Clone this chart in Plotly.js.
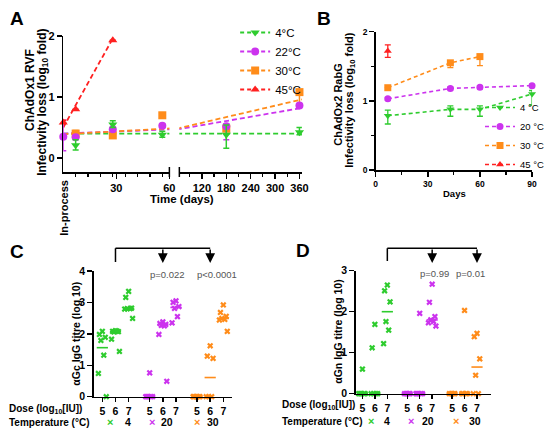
<!DOCTYPE html>
<html>
<head>
<meta charset="utf-8">
<script src="https://cdn.plot.ly/plotly-3.0.1.min.js"></script>
<style>
  html, body { margin: 0; padding: 0; background: #fff; }
  #chart { width: 550px; height: 439px; }
</style>
</head>
<body>
<div id="chart"></div>
<script>
// colours
const green = '#2ecc2e';
const magenta = '#cc33ee';
const orange = '#ff8c1a';
const red = '#ff2020';

// ---- panel A: ChAdOx1 RVF, infectivity loss vs time ----
const aDays4 = [7, 28, 56, 180, 360];
const a4 = [0.21, 0.55, 0.38, 0.38, 0.42];
const a4Up = [0.09, 0.06, 0.06, 0.16, 0.08];
const a4Down = [0.08, 0.05, 0.04, 0.22, 0.04];

const aDays22 = [0, 7, 28, 56, 180, 360];
const a22 = [0.35, 0.34, 0.47, 0.53, 0.52, 0.86];
const a22Up = [0.27, 0.03, 0.03, 0.03, 0.04, 0.03];
const a22Down = [0.23, 0.03, 0.03, 0.03, 0.22, 0.03];

const aDays30 = [7, 28, 56, 180, 360];
const a30 = [0.40, 0.37, 0.70, 0.48, 1.08];
const a30Up = [0.05, 0, 0, 0, 0];
const a30Down = [0, 0, 0, 0, 0.22];

const aDays45 = [0, 7, 28];
const a45 = [0.58, 0.80, 1.93];
const a45Up = [0.04, 0, 0];
const a45Down = [0, 0, 0];

// fitted trend lines (end points)
const fitDays = [0, 366];
const fit4 = [0.40, 0.40];
const fit22 = [0.40, 0.82];
const fit30 = [0.39, 0.96];
const fitDays45 = [0, 28];
const fit45 = [0.50, 1.96];

// ---- panel B: ChAdOx2 RabG ----
const bDays4 = [7, 43, 60, 90];
const b4 = [0.785, 0.877, 0.877, 1.10];
const b4Up = [0.08, 0.05, 0.05, 0.05];
const b4Down = [0.12, 0.10, 0.10, 0.16];
const bDays20 = [7, 43, 60, 90];
const b20 = [1.03, 1.18, 1.195, 1.22];
const b20Up = [0.02, 0.02, 0.02, 0.02];
const bDays30 = [7, 43, 60];
const b30 = [1.19, 1.55, 1.64];
const b30Down = [0, 0.07, 0.13];
const bDays45 = [7];
const b45 = [1.72];
const b45Err = [0.09];

// ---- panels C and D: antibody titres ----
const doses = ['5', '6', '7'];
const temps = ['4', '20', '30'];

const cG = [[2.08, 1.98, 1.89, 1.79, 1.32, 0.74, 0],
            [2.10, 2.08, 2.07, 2.06, 2.09, 1.83, 1.44],
            [3.35, 3.16, 2.82, 2.80, 2.80, 2.79, 2.49]];
const cM = [[0.76, 0, 0, 0, 0, 0],
            [2.38, 2.33, 2.30, 2.27, 2.25, 1.98, 0.49],
            [3.05, 3.00, 2.87, 2.81, 2.55, 2.35]];
const cO = [[0, 0, 0, 0, 0, 0],
            [1.62, 1.29, 1.22, 0, 0, 0],
            [2.92, 2.68, 2.56, 2.49, 2.46, 2.44, 2.08]];
const cMidG = [1.56, 2.07, 2.81];
const cMidM = [0, 2.30, 2.84];
const cMidO = [0, 0.61, 2.49];

const dG = [[0.60, 0, 0, 0, 0, 0],
            [1.69, 1.12, 0, 0, 0, 0],
            [2.65, 2.51, 2.24, 1.76, 1.55, 1.22]];
const dM = [[0, 0, 0, 0, 0],
            [1.96, 0, 0, 0, 0, 0],
            [2.67, 2.23, 1.88, 1.80, 1.76, 1.73, 1.65]];
const dO = [[0, 0, 0, 0, 0],
            [2.03, 0, 0, 0, 0],
            [1.47, 1.39, 0.85, 0.45, 0, 0]];
const dMidG = [0, 0, 2.0];
const dMidM = [0, 0, 1.8];
const dMidO = [0, 0, 0.65];

const cPvals = ['p=0.022', 'p<0.0001'];
const dPvals = ['p=0.99', 'p=0.01'];

// ---------- helpers ----------
const W = 550, H = 439;
const px = v => v / W;
const py = v => 1 - v / H;
const FONT = 'Liberation Sans, Arial, sans-serif';
const GAP = 3.6;                       // distance between temperature groups
const catPos = (g, d) => g * GAP + d;
const jit = [0, -0.22, 0.22, -0.11, 0.11, -0.3, 0.3, 0.05];

let traces = [];

// panel A
function addA(days, vals, up, down, color, symbol, size) {
  const sides = [['x', d => d <= 60], ['x2', d => d > 60]];
  sides.forEach(function(s) {
    let x = [], y = [], u = [], m = [];
    days.forEach(function(d, i) {
      if (s[1](d)) { x.push(d); y.push(vals[i]); u.push(up[i]); m.push(down[i]); }
    });
    if (!x.length) return;
    traces.push({
      x: x, y: y, xaxis: s[0], yaxis: 'y', mode: 'markers', showlegend: false,
      cliponaxis: false,
      marker: { color: color, symbol: symbol, size: size },
      error_y: { type: 'data', symmetric: false, array: u, arrayminus: m,
                 color: color, thickness: 1.5, width: 3 }
    });
  });
}
function addFit(days, vals, color, axes) {
  axes.forEach(function(ax) {
    traces.push({
      x: days, y: vals, xaxis: ax, yaxis: 'y', mode: 'lines', showlegend: false,
      line: { color: color, width: 1.8, dash: '5px,3px' }
    });
  });
}
addFit(fitDays, fit4, green, ['x', 'x2']);
addFit(fitDays, fit22, magenta, ['x', 'x2']);
addFit(fitDays, fit30, orange, ['x', 'x2']);
addFit(fitDays45, fit45, red, ['x']);
addA(aDays30, a30, a30Up, a30Down, orange, 'square', 8);
addA(aDays22, a22, a22Up, a22Down, magenta, 'circle', 8);
addA(aDays4, a4, a4Up, a4Down, green, 'triangle-down', 8);
addA(aDays45, a45, a45Up, a45Down, red, 'triangle-up', 8);

// legend entries
const legA = [['4°C', green, 'triangle-down'], ['22°C', magenta, 'circle'],
              ['30°C', orange, 'square'], ['45°C', red, 'triangle-up']];
legA.forEach(function(l) {
  traces.push({ x: [null], y: [null], xaxis: 'x', yaxis: 'y', name: l[0], legend: 'legend',
    mode: 'lines+markers', line: { color: l[1], width: 1.8, dash: '4px,3px' },
    marker: { color: l[1], symbol: l[2], size: 8 } });
});

// panel B
function addB(days, vals, up, down, color, symbol, name) {
  traces.push({
    x: days, y: vals, xaxis: 'x3', yaxis: 'y3', mode: 'lines+markers', name: name,
    legend: 'legend2', cliponaxis: false,
    line: { color: color, width: 1.6, dash: '4px,3px' },
    marker: { color: color, symbol: symbol, size: 7 },
    error_y: { type: 'data', symmetric: false, array: up, arrayminus: down,
               color: color, thickness: 1.3, width: 3 }
  });
}
addB(bDays4, b4, b4Up, b4Down, green, 'triangle-down', '4 °C');
addB(bDays20, b20, b20Up, b20Up, magenta, 'circle', '20 °C');
addB(bDays30, b30, b30Down.map(() => 0), b30Down, orange, 'square', '30 °C');
addB(bDays45, b45, b45Err, b45Err, red, 'triangle-up', '45 °C');

// panels C, D
function addDots(groups, g, mids, color, ax, ay) {
  let x = [], y = [];
  groups.forEach(function(vals, d) {
    vals.forEach(function(v, i) { x.push(catPos(g, d) + jit[i % jit.length]); y.push(v); });
  });
  traces.push({ x: x, y: y, xaxis: ax, yaxis: ay, mode: 'markers', showlegend: false,
    cliponaxis: false,
    marker: { symbol: 'x', size: 5.5, color: color } });
  traces.push({ x: mids.map((m, d) => catPos(g, d)), y: mids, xaxis: ax, yaxis: ay,
    mode: 'markers', showlegend: false, cliponaxis: false,
    marker: { symbol: 'line-ew', size: 8, line: { color: color, width: 1.6 } } });
}
addDots(cG, 0, cMidG, green, 'x4', 'y4');
addDots(cM, 1, cMidM, magenta, 'x4', 'y4');
addDots(cO, 2, cMidO, orange, 'x4', 'y4');
addDots(dG, 0, dMidG, green, 'x5', 'y5');
addDots(dM, 1, dMidM, magenta, 'x5', 'y5');
addDots(dO, 2, dMidO, orange, 'x5', 'y5');

// ---------- axes ----------
function axis(extra, fsize) {
  return Object.assign({
    showline: true, linecolor: '#000', linewidth: 1.5, ticks: 'outside', ticklen: 5,
    tickwidth: 1.5, tickcolor: '#000', showgrid: false, zeroline: false,
    tickfont: { family: FONT, size: fsize, color: '#000', weight: 700 }, fixedrange: true
  }, extra);
}
let catVals = [], catText = [];
temps.forEach(function(t, g) { doses.forEach(function(d, i) { catVals.push(catPos(g, i)); catText.push(d); }); });

const layout = {
  width: W, height: H, margin: { l: 0, r: 0, t: 0, b: 0 },
  paper_bgcolor: '#fff', plot_bgcolor: 'rgba(0,0,0,0)',
  font: { family: FONT, color: '#000' },
  xaxis: axis({ domain: [px(63.5), px(170)], range: [0, 60], anchor: 'y',
    tickvals: [30, 60],
    minor: { tickvals: [7, 14, 21, 28, 35, 42, 49, 56], ticks: 'outside', ticklen: 3, tickwidth: 1.2, tickcolor: '#000' } }, 11),
  xaxis2: axis({ domain: [px(180), px(303)], range: [64.5, 366], anchor: 'y',
    tickvals: [120, 180, 240, 300, 360],
    minor: { tickvals: [90, 150, 210, 270, 330], ticks: 'outside', ticklen: 3, tickwidth: 1.2, tickcolor: '#000' } }, 11),
  yaxis: axis({ domain: [py(172), py(36)], range: [-0.23, 2], anchor: 'x', tickvals: [0, 1, 2] }, 11),
  xaxis3: axis({ domain: [px(377), px(534)], range: [0, 90], anchor: 'y3', tickvals: [0, 30, 60, 90],
    minor: { dtick: 15, tick0: 0, ticks: 'outside', ticklen: 3, tickwidth: 1.2, tickcolor: '#000' } }, 8.5),
  yaxis3: axis({ domain: [py(170), py(31.7)], range: [0, 2], anchor: 'x3', tickvals: [0, 1, 2],
    minor: { dtick: 0.5, tick0: 0, ticks: 'outside', ticklen: 3, tickwidth: 1.2, tickcolor: '#000' } }, 8.5),
  xaxis4: axis({ domain: [px(94), px(233)], range: [-0.66, 9.87], anchor: 'y4',
    tickvals: catVals, ticktext: catText, ticklen: 4 }, 10.5),
  yaxis4: axis({ domain: [py(396.7), py(271)], range: [0, 4], anchor: 'x4', dtick: 1 }, 10.5),
  xaxis5: axis({ domain: [px(357), px(493)], range: [-0.54, 10.34], anchor: 'y5',
    tickvals: catVals, ticktext: catText, ticklen: 4 }, 10.5),
  yaxis5: axis({ domain: [py(393.7), py(270.7)], range: [0, 3], anchor: 'x5', dtick: 1 }, 10.5),
  legend: { x: px(236), y: py(18), xanchor: 'left', yanchor: 'top', bgcolor: 'rgba(0,0,0,0)',
    font: { family: FONT, size: 11.5 }, itemwidth: 30, tracegroupgap: 0 },
  legend2: { x: px(482), y: py(93), xanchor: 'left', yanchor: 'top', bgcolor: 'rgba(0,0,0,0)',
    font: { family: FONT, size: 9.5 }, itemwidth: 30, tracegroupgap: 0 },
  shapes: [],
  annotations: []
};

// axis break marks in A
[170, 180].forEach(function(b) {
  layout.shapes.push({ type: 'line', xref: 'paper', yref: 'paper', x0: px(b), x1: px(b),
    y0: py(167), y1: py(177), line: { color: '#000', width: 1.5 } });
});

function note(text, x, y, size, extra) {
  layout.annotations.push(Object.assign({ text: text, x: x, y: y, xref: 'paper', yref: 'paper',
    showarrow: false, xanchor: 'center', yanchor: 'middle',
    font: { family: FONT, size: size, color: '#000' } }, extra || {}));
}

// panel letters
note('<b>A</b>', px(17), py(19), 19);
note('<b>B</b>', px(325), py(19), 19);
note('<b>C</b>', px(17), py(251), 19);
note('<b>D</b>', px(304), py(250), 19);

// panel A texts
note('<b>ChAdOx1 RVF</b>', px(30), py(90), 12, { textangle: -90 });
note('<b>Infectivity loss (log<sub>10</sub> fold)</b>', px(43), py(102), 12, { textangle: -90 });
note('<b>Time (days)</b>', px(183), py(199), 11.5);
note('<b>In-process</b>', px(64), py(208), 11, { textangle: 270 });

// panel B texts
note('<b>ChAdOx2 RabG</b>', px(339), py(104), 11, { textangle: -90 });
note('<b>Infectivity loss (log<sub>10</sub> fold)</b>', px(351), py(100), 11, { textangle: -90 });
note('<b>Days</b>', px(456), py(193), 9.5);

// panels C and D texts
function titrePanel(ax, ytitle, ytx, yty, labelX, doseY, tempY, tempPos, bracket, pvals, pvalPos, pY) {
  note('<b>' + ytitle + '</b>', px(ytx), py(yty), 10.5, { textangle: -90 });
  note('<b>Dose (log<sub>10</sub>[IU])</b>', px(labelX), py(doseY), 10, { xanchor: 'left' });
  note('<b>Temperature (°C)</b>', px(labelX), py(tempY), 10, { xanchor: 'left' });
  const cols = [green, magenta, orange];
  temps.forEach(function(t, g) {
    note('<b>×</b>', px(tempPos[g][0]), py(tempY), 11, { font: { family: FONT, size: 11, color: cols[g] } });
    note('<b>' + t + '</b>', px(tempPos[g][1]), py(tempY), 10.5);
  });
  // bracket and arrows
  const from = bracket[0], to = bracket[1];
  layout.shapes.push({ type: 'line', xref: ax, yref: 'paper', x0: from, x1: from,
    y0: py(bracket[2]), y1: py(248.3), line: { color: '#000', width: 1.5 } });
  layout.shapes.push({ type: 'line', xref: ax, yref: 'paper', x0: from, x1: to[to.length - 1],
    y0: py(248.3), y1: py(248.3), line: { color: '#000', width: 1.5 } });
  to.forEach(function(t) {
    layout.annotations.push({ x: t, y: py(263), xref: ax, yref: 'paper', ax: 0, ay: -15,
      text: '', showarrow: true, arrowhead: 2, arrowsize: 1.3, arrowwidth: 1.5, arrowcolor: '#000' });
  });
  pvals.forEach(function(p, i) {
    note(p, px(pvalPos[i]), py(pY), 9.5, { font: { family: FONT, size: 9.5, color: '#555' } });
  });
}
titrePanel('x4', 'αGc IgG titre (log 10)', 76, 334, 7, 409, 422,
  [[110, 128], [153, 168], [198, 214]], [catPos(0, 1), [catPos(1, 1), catPos(2, 1)], 262],
  cPvals, [168, 218], 274);
titrePanel('x5', 'αGn IgG titre (log 10)', 339, 332, 281, 405, 421,
  [[372, 388], [413, 430], [458, 477]], [catPos(0, 2), [catPos(1, 2), catPos(2, 2)], 261],
  dPvals, [436, 472], 273);

Plotly.newPlot('chart', traces, layout, { displayModeBar: false, staticPlot: true });
</script>
</body>
</html>
